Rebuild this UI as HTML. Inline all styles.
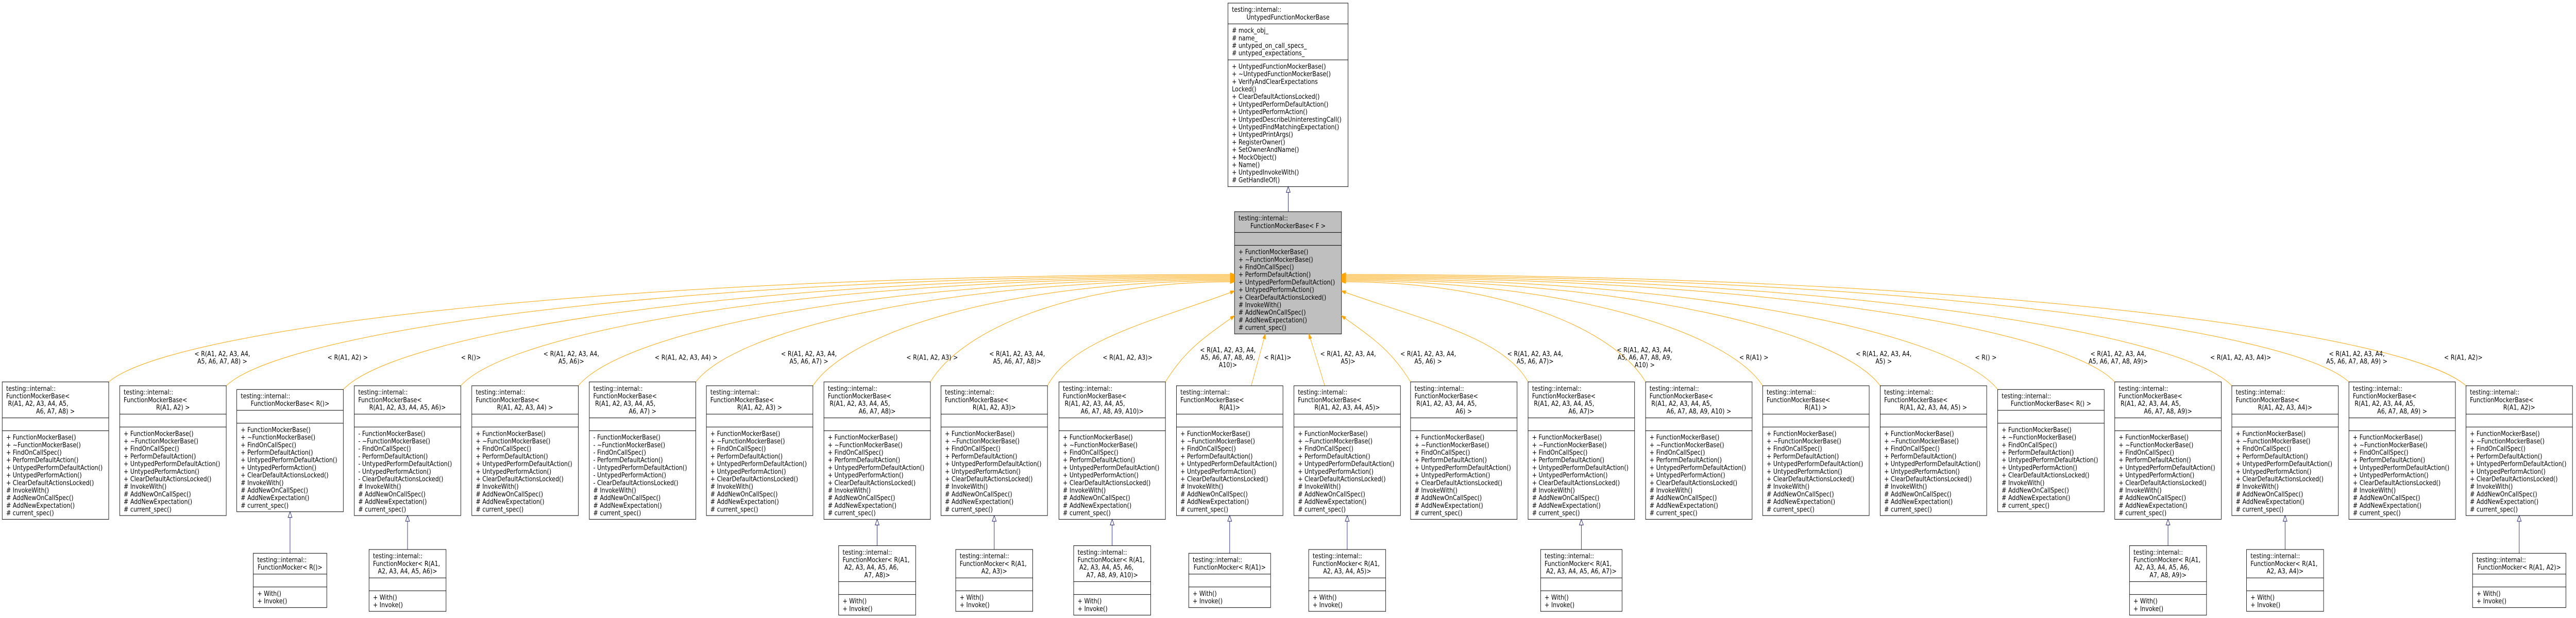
<!DOCTYPE html>
<html><head><meta charset="utf-8"><style>
html,body{margin:0;padding:0;background:#fff;overflow:hidden;width:100%;height:100%;}
svg{display:block;width:100vw;height:100vh;}
text{font-family:"DejaVu Sans","Liberation Sans",sans-serif;font-size:13px;fill:#000;white-space:pre;}
.m{text-anchor:middle;}
rect{stroke:#000;stroke-width:1;fill:#fff;}
rect.g{fill:#bfbfbf;}
line.s{stroke:#000;stroke-width:1;}
path.e{fill:none;stroke:#ffa500;stroke-width:1;marker-end:url(#oa);}
line.e{stroke:#ffa500;stroke-width:1;marker-end:url(#oa);}
line.i{stroke:#191970;stroke-width:1;}
polygon.i{fill:#fff;stroke:#191970;stroke-width:1;}
</style></head><body>
<svg viewBox="0 0 5853 1200" preserveAspectRatio="none" xmlns="http://www.w3.org/2000/svg">
<defs><marker id="oa" markerUnits="userSpaceOnUse" markerWidth="11" markerHeight="8" refX="10" refY="3.5" orient="auto"><path d="M0,0 L10,3.5 L0,7 z" fill="#ffa500" stroke="#ffa500"/></marker></defs>

<rect x="2790" y="6" width="273" height="356.4"/>
<line class="s" x1="2790" y1="46.4" x2="3063" y2="46.4"/>
<line class="s" x1="2790" y1="116.2" x2="3063" y2="116.2"/>
<text x="2799" y="23.2">testing::internal::</text>
<text class="m" x="2926.5" y="37.9">UntypedFunctionMockerBase</text>
<text x="2799" y="63.6"><tspan x="2799" dy="0"># mock_obj_</tspan><tspan x="2799" dy="14.7"># name_</tspan><tspan x="2799" dy="14.7"># untyped_on_call_specs_</tspan><tspan x="2799" dy="14.7"># untyped_expectations_</tspan></text>
<text x="2799" y="133.4"><tspan x="2799" dy="0">+ UntypedFunctionMockerBase()</tspan><tspan x="2799" dy="14.7">+ ~UntypedFunctionMockerBase()</tspan><tspan x="2799" dy="14.7">+ VerifyAndClearExpectations</tspan><tspan x="2799" dy="14.7">Locked()</tspan><tspan x="2799" dy="14.7">+ ClearDefaultActionsLocked()</tspan><tspan x="2799" dy="14.7">+ UntypedPerformDefaultAction()</tspan><tspan x="2799" dy="14.7">+ UntypedPerformAction()</tspan><tspan x="2799" dy="14.7">+ UntypedDescribeUninterestingCall()</tspan><tspan x="2799" dy="14.7">+ UntypedFindMatchingExpectation()</tspan><tspan x="2799" dy="14.7">+ UntypedPrintArgs()</tspan><tspan x="2799" dy="14.7">+ RegisterOwner()</tspan><tspan x="2799" dy="14.7">+ SetOwnerAndName()</tspan><tspan x="2799" dy="14.7">+ MockObject()</tspan><tspan x="2799" dy="14.7">+ Name()</tspan><tspan x="2799" dy="14.7">+ UntypedInvokeWith()</tspan><tspan x="2799" dy="14.7"># GetHandleOf()</tspan></text>
<line class="i" x1="2927" y1="411" x2="2927" y2="373"/>
<polygon class="i" points="2927,362.4 2922.5,373.4 2931.5,373.4"/>

<rect class="g" x="2805" y="411" width="243" height="237.4"/>
<line class="s" x1="2805" y1="451.4" x2="3048" y2="451.4"/>
<line class="s" x1="2805" y1="476.4" x2="3048" y2="476.4"/>
<text x="2814" y="428.2">testing::internal::</text>
<text class="m" x="2926.5" y="442.9">FunctionMockerBase&lt; F &gt;</text>
<text x="2814" y="493.6"><tspan x="2814" dy="0">+ FunctionMockerBase()</tspan><tspan x="2814" dy="14.7">+ ~FunctionMockerBase()</tspan><tspan x="2814" dy="14.7">+ FindOnCallSpec()</tspan><tspan x="2814" dy="14.7">+ PerformDefaultAction()</tspan><tspan x="2814" dy="14.7">+ UntypedPerformDefaultAction()</tspan><tspan x="2814" dy="14.7">+ UntypedPerformAction()</tspan><tspan x="2814" dy="14.7">+ ClearDefaultActionsLocked()</tspan><tspan x="2814" dy="14.7"># InvokeWith()</tspan><tspan x="2814" dy="14.7"># AddNewOnCallSpec()</tspan><tspan x="2814" dy="14.7"># AddNewExpectation()</tspan><tspan x="2814" dy="14.7"># current_spec()</tspan></text>

<path class="e" d="M247,741.6 C389,637.3 1398,533 2805,533"/>
<path class="e" d="M514,749 C646,642 1545,535 2805,535"/>
<path class="e" d="M780,756.3 C901,646.5 1691,537 2805,537"/>
<path class="e" d="M1047,749 C1157,644 1838,539 2805,539"/>
<path class="e" d="M1314,749 C1414,645 1985,541 2805,541"/>
<path class="e" d="M1581,741.6 C1670,642 2132,543 2805,543"/>
<path class="e" d="M1847,749 C1925,647 2278,545 2805,545"/>
<path class="e" d="M2114,741.6 C2182,644 2425,547 2805,547"/>
<path class="e" d="M2380,749 C2437,657 2635,620 2805,565"/>
<path class="e" d="M2648,741.6 C2694,677 2742,652 2805,613"/>
<line class="e" x1="2843" y1="749" x2="2875" y2="648.4"/>
<line class="e" x1="3010" y1="749" x2="2974" y2="648.4"/>
<path class="e" d="M3205,741.6 C3159,677 3111,652 3048,613"/>
<path class="e" d="M3472,741.6 C3415,653 3218,618 3048,565"/>
<path class="e" d="M3739,741.6 C3671,644 3428,547 3048,547"/>
<path class="e" d="M4005,749 C3927,647 3574,545 3048,545"/>
<path class="e" d="M4272,749 C4183,646 3721,543 3048,543"/>
<path class="e" d="M4539,756.3 C4439,648.5 3868,541 3048,541"/>
<path class="e" d="M4805,741.6 C4695,640 4014,539 3048,539"/>
<path class="e" d="M5071,749 C4950,643 4161,537 3048,537"/>
<path class="e" d="M5337,741.6 C5205,638 4307,535 3048,535"/>
<path class="e" d="M5603,749 C5461,641 4453,533 3048,533"/>

<text class="m" x="505" y="691.5">&lt; R(A1, A2, A3, A4,<tspan x="505" dy="14.7">A5, A6, A7, A8) &gt;</tspan></text>
<text class="m" x="790" y="698.5">&lt; R(A1, A2) &gt;</text>
<text class="m" x="1070" y="698.5">&lt; R()&gt;</text>
<text class="m" x="1298" y="691.5">&lt; R(A1, A2, A3, A4,<tspan x="1298" dy="14.7">A5, A6)&gt;</tspan></text>
<text class="m" x="1559" y="698.5">&lt; R(A1, A2, A3, A4) &gt;</text>
<text class="m" x="1838" y="691.5">&lt; R(A1, A2, A3, A4,<tspan x="1838" dy="14.7">A5, A6, A7) &gt;</tspan></text>
<text class="m" x="2118" y="698.5">&lt; R(A1, A2, A3) &gt;</text>
<text class="m" x="2311" y="691.5">&lt; R(A1, A2, A3, A4,<tspan x="2311" dy="14.7">A5, A6, A7, A8)&gt;</tspan></text>
<text class="m" x="2562" y="698.5">&lt; R(A1, A2, A3)&gt;</text>
<text class="m" x="2790" y="683.8">&lt; R(A1, A2, A3, A4,<tspan x="2790" dy="14.7">A5, A6, A7, A8, A9,</tspan><tspan x="2790" dy="14.7">A10)&gt;</tspan></text>
<text class="m" x="2903" y="698.5">&lt; R(A1)&gt;</text>
<text class="m" x="3063" y="691.5">&lt; R(A1, A2, A3, A4,<tspan x="3063" dy="14.7">A5)&gt;</tspan></text>
<text class="m" x="3245" y="691.5">&lt; R(A1, A2, A3, A4,<tspan x="3245" dy="14.7">A5, A6) &gt;</tspan></text>
<text class="m" x="3488" y="691.5">&lt; R(A1, A2, A3, A4,<tspan x="3488" dy="14.7">A5, A6, A7)&gt;</tspan></text>
<text class="m" x="3737" y="683.8">&lt; R(A1, A2, A3, A4,<tspan x="3737" dy="14.7">A5, A6, A7, A8, A9,</tspan><tspan x="3737" dy="14.7">A10) &gt;</tspan></text>
<text class="m" x="3985" y="698.5">&lt; R(A1) &gt;</text>
<text class="m" x="4280" y="691.5">&lt; R(A1, A2, A3, A4,<tspan x="4280" dy="14.7">A5) &gt;</tspan></text>
<text class="m" x="4512" y="698.5">&lt; R() &gt;</text>
<text class="m" x="4813" y="691.5">&lt; R(A1, A2, A3, A4,<tspan x="4813" dy="14.7">A5, A6, A7, A8, A9)&gt;</tspan></text>
<text class="m" x="5091" y="698.5">&lt; R(A1, A2, A3, A4)&gt;</text>
<text class="m" x="5355" y="691.5">&lt; R(A1, A2, A3, A4,<tspan x="5355" dy="14.7">A5, A6, A7, A8, A9) &gt;</tspan></text>
<text class="m" x="5597" y="698.5">&lt; R(A1, A2)&gt;</text>

<rect x="5" y="741.6" width="242" height="266.8"/><line class="s" x1="5" y1="811.4" x2="247" y2="811.4"/><line class="s" x1="5" y1="836.4" x2="247" y2="836.4"/>
<text x="14" y="758.8"><tspan x="14" dy="0">testing::internal::</tspan><tspan x="14" dy="14.7">FunctionMockerBase&lt;</tspan><tspan x="14" dy="14.7"> R(A1, A2, A3, A4, A5,</tspan></text><text class="m" x="126" y="802.9">A6, A7, A8) &gt;</text>
<text x="14" y="853.6"><tspan x="14" dy="0">+ FunctionMockerBase()</tspan><tspan x="14" dy="14.7">+ ~FunctionMockerBase()</tspan><tspan x="14" dy="14.7">+ FindOnCallSpec()</tspan><tspan x="14" dy="14.7">+ PerformDefaultAction()</tspan><tspan x="14" dy="14.7">+ UntypedPerformDefaultAction()</tspan><tspan x="14" dy="14.7">+ UntypedPerformAction()</tspan><tspan x="14" dy="14.7">+ ClearDefaultActionsLocked()</tspan><tspan x="14" dy="14.7"># InvokeWith()</tspan><tspan x="14" dy="14.7"># AddNewOnCallSpec()</tspan><tspan x="14" dy="14.7"># AddNewExpectation()</tspan><tspan x="14" dy="14.7"># current_spec()</tspan></text>

<rect x="272" y="749" width="242" height="252.1"/><line class="s" x1="272" y1="804.1" x2="514" y2="804.1"/><line class="s" x1="272" y1="829.1" x2="514" y2="829.1"/>
<text x="281" y="766.2"><tspan x="281" dy="0">testing::internal::</tspan><tspan x="281" dy="14.7">FunctionMockerBase&lt;</tspan></text><text class="m" x="393" y="795.6">R(A1, A2) &gt;</text>
<text x="281" y="846.3"><tspan x="281" dy="0">+ FunctionMockerBase()</tspan><tspan x="281" dy="14.7">+ ~FunctionMockerBase()</tspan><tspan x="281" dy="14.7">+ FindOnCallSpec()</tspan><tspan x="281" dy="14.7">+ PerformDefaultAction()</tspan><tspan x="281" dy="14.7">+ UntypedPerformDefaultAction()</tspan><tspan x="281" dy="14.7">+ UntypedPerformAction()</tspan><tspan x="281" dy="14.7">+ ClearDefaultActionsLocked()</tspan><tspan x="281" dy="14.7"># InvokeWith()</tspan><tspan x="281" dy="14.7"># AddNewOnCallSpec()</tspan><tspan x="281" dy="14.7"># AddNewExpectation()</tspan><tspan x="281" dy="14.7"># current_spec()</tspan></text>

<rect x="538" y="756.3" width="242" height="237.4"/><line class="s" x1="538" y1="796.7" x2="780" y2="796.7"/><line class="s" x1="538" y1="821.7" x2="780" y2="821.7"/>
<text x="547" y="773.5">testing::internal::</text><text class="m" x="659" y="788.2">FunctionMockerBase&lt; R()&gt;</text>
<text x="547" y="838.9"><tspan x="547" dy="0">+ FunctionMockerBase()</tspan><tspan x="547" dy="14.7">+ ~FunctionMockerBase()</tspan><tspan x="547" dy="14.7">+ FindOnCallSpec()</tspan><tspan x="547" dy="14.7">+ PerformDefaultAction()</tspan><tspan x="547" dy="14.7">+ UntypedPerformDefaultAction()</tspan><tspan x="547" dy="14.7">+ UntypedPerformAction()</tspan><tspan x="547" dy="14.7">+ ClearDefaultActionsLocked()</tspan><tspan x="547" dy="14.7"># InvokeWith()</tspan><tspan x="547" dy="14.7"># AddNewOnCallSpec()</tspan><tspan x="547" dy="14.7"># AddNewExpectation()</tspan><tspan x="547" dy="14.7"># current_spec()</tspan></text>

<rect x="805" y="749" width="242" height="252.1"/><line class="s" x1="805" y1="804.1" x2="1047" y2="804.1"/><line class="s" x1="805" y1="829.1" x2="1047" y2="829.1"/>
<text x="814" y="766.2"><tspan x="814" dy="0">testing::internal::</tspan><tspan x="814" dy="14.7">FunctionMockerBase&lt;</tspan></text><text class="m" x="926" y="795.6">R(A1, A2, A3, A4, A5, A6)&gt;</text>
<text x="814" y="846.3"><tspan x="814" dy="0">- FunctionMockerBase()</tspan><tspan x="814" dy="14.7">- ~FunctionMockerBase()</tspan><tspan x="814" dy="14.7">- FindOnCallSpec()</tspan><tspan x="814" dy="14.7">- PerformDefaultAction()</tspan><tspan x="814" dy="14.7">- UntypedPerformDefaultAction()</tspan><tspan x="814" dy="14.7">- UntypedPerformAction()</tspan><tspan x="814" dy="14.7">- ClearDefaultActionsLocked()</tspan><tspan x="814" dy="14.7"># InvokeWith()</tspan><tspan x="814" dy="14.7"># AddNewOnCallSpec()</tspan><tspan x="814" dy="14.7"># AddNewExpectation()</tspan><tspan x="814" dy="14.7"># current_spec()</tspan></text>

<rect x="1072" y="749" width="242" height="252.1"/><line class="s" x1="1072" y1="804.1" x2="1314" y2="804.1"/><line class="s" x1="1072" y1="829.1" x2="1314" y2="829.1"/>
<text x="1081" y="766.2"><tspan x="1081" dy="0">testing::internal::</tspan><tspan x="1081" dy="14.7">FunctionMockerBase&lt;</tspan></text><text class="m" x="1193" y="795.6">R(A1, A2, A3, A4) &gt;</text>
<text x="1081" y="846.3"><tspan x="1081" dy="0">+ FunctionMockerBase()</tspan><tspan x="1081" dy="14.7">+ ~FunctionMockerBase()</tspan><tspan x="1081" dy="14.7">+ FindOnCallSpec()</tspan><tspan x="1081" dy="14.7">+ PerformDefaultAction()</tspan><tspan x="1081" dy="14.7">+ UntypedPerformDefaultAction()</tspan><tspan x="1081" dy="14.7">+ UntypedPerformAction()</tspan><tspan x="1081" dy="14.7">+ ClearDefaultActionsLocked()</tspan><tspan x="1081" dy="14.7"># InvokeWith()</tspan><tspan x="1081" dy="14.7"># AddNewOnCallSpec()</tspan><tspan x="1081" dy="14.7"># AddNewExpectation()</tspan><tspan x="1081" dy="14.7"># current_spec()</tspan></text>

<rect x="1339" y="741.6" width="242" height="266.8"/><line class="s" x1="1339" y1="811.4" x2="1581" y2="811.4"/><line class="s" x1="1339" y1="836.4" x2="1581" y2="836.4"/>
<text x="1348" y="758.8"><tspan x="1348" dy="0">testing::internal::</tspan><tspan x="1348" dy="14.7">FunctionMockerBase&lt;</tspan><tspan x="1348" dy="14.7"> R(A1, A2, A3, A4, A5,</tspan></text><text class="m" x="1460" y="802.9">A6, A7) &gt;</text>
<text x="1348" y="853.6"><tspan x="1348" dy="0">- FunctionMockerBase()</tspan><tspan x="1348" dy="14.7">- ~FunctionMockerBase()</tspan><tspan x="1348" dy="14.7">- FindOnCallSpec()</tspan><tspan x="1348" dy="14.7">- PerformDefaultAction()</tspan><tspan x="1348" dy="14.7">- UntypedPerformDefaultAction()</tspan><tspan x="1348" dy="14.7">- UntypedPerformAction()</tspan><tspan x="1348" dy="14.7">- ClearDefaultActionsLocked()</tspan><tspan x="1348" dy="14.7"># InvokeWith()</tspan><tspan x="1348" dy="14.7"># AddNewOnCallSpec()</tspan><tspan x="1348" dy="14.7"># AddNewExpectation()</tspan><tspan x="1348" dy="14.7"># current_spec()</tspan></text>

<rect x="1605" y="749" width="242" height="252.1"/><line class="s" x1="1605" y1="804.1" x2="1847" y2="804.1"/><line class="s" x1="1605" y1="829.1" x2="1847" y2="829.1"/>
<text x="1614" y="766.2"><tspan x="1614" dy="0">testing::internal::</tspan><tspan x="1614" dy="14.7">FunctionMockerBase&lt;</tspan></text><text class="m" x="1726" y="795.6">R(A1, A2, A3) &gt;</text>
<text x="1614" y="846.3"><tspan x="1614" dy="0">+ FunctionMockerBase()</tspan><tspan x="1614" dy="14.7">+ ~FunctionMockerBase()</tspan><tspan x="1614" dy="14.7">+ FindOnCallSpec()</tspan><tspan x="1614" dy="14.7">+ PerformDefaultAction()</tspan><tspan x="1614" dy="14.7">+ UntypedPerformDefaultAction()</tspan><tspan x="1614" dy="14.7">+ UntypedPerformAction()</tspan><tspan x="1614" dy="14.7">+ ClearDefaultActionsLocked()</tspan><tspan x="1614" dy="14.7"># InvokeWith()</tspan><tspan x="1614" dy="14.7"># AddNewOnCallSpec()</tspan><tspan x="1614" dy="14.7"># AddNewExpectation()</tspan><tspan x="1614" dy="14.7"># current_spec()</tspan></text>

<rect x="1872" y="741.6" width="242" height="266.8"/><line class="s" x1="1872" y1="811.4" x2="2114" y2="811.4"/><line class="s" x1="1872" y1="836.4" x2="2114" y2="836.4"/>
<text x="1881" y="758.8"><tspan x="1881" dy="0">testing::internal::</tspan><tspan x="1881" dy="14.7">FunctionMockerBase&lt;</tspan><tspan x="1881" dy="14.7"> R(A1, A2, A3, A4, A5,</tspan></text><text class="m" x="1993" y="802.9">A6, A7, A8)&gt;</text>
<text x="1881" y="853.6"><tspan x="1881" dy="0">+ FunctionMockerBase()</tspan><tspan x="1881" dy="14.7">+ ~FunctionMockerBase()</tspan><tspan x="1881" dy="14.7">+ FindOnCallSpec()</tspan><tspan x="1881" dy="14.7">+ PerformDefaultAction()</tspan><tspan x="1881" dy="14.7">+ UntypedPerformDefaultAction()</tspan><tspan x="1881" dy="14.7">+ UntypedPerformAction()</tspan><tspan x="1881" dy="14.7">+ ClearDefaultActionsLocked()</tspan><tspan x="1881" dy="14.7"># InvokeWith()</tspan><tspan x="1881" dy="14.7"># AddNewOnCallSpec()</tspan><tspan x="1881" dy="14.7"># AddNewExpectation()</tspan><tspan x="1881" dy="14.7"># current_spec()</tspan></text>

<rect x="2138" y="749" width="242" height="252.1"/><line class="s" x1="2138" y1="804.1" x2="2380" y2="804.1"/><line class="s" x1="2138" y1="829.1" x2="2380" y2="829.1"/>
<text x="2147" y="766.2"><tspan x="2147" dy="0">testing::internal::</tspan><tspan x="2147" dy="14.7">FunctionMockerBase&lt;</tspan></text><text class="m" x="2259" y="795.6">R(A1, A2, A3)&gt;</text>
<text x="2147" y="846.3"><tspan x="2147" dy="0">+ FunctionMockerBase()</tspan><tspan x="2147" dy="14.7">+ ~FunctionMockerBase()</tspan><tspan x="2147" dy="14.7">+ FindOnCallSpec()</tspan><tspan x="2147" dy="14.7">+ PerformDefaultAction()</tspan><tspan x="2147" dy="14.7">+ UntypedPerformDefaultAction()</tspan><tspan x="2147" dy="14.7">+ UntypedPerformAction()</tspan><tspan x="2147" dy="14.7">+ ClearDefaultActionsLocked()</tspan><tspan x="2147" dy="14.7"># InvokeWith()</tspan><tspan x="2147" dy="14.7"># AddNewOnCallSpec()</tspan><tspan x="2147" dy="14.7"># AddNewExpectation()</tspan><tspan x="2147" dy="14.7"># current_spec()</tspan></text>

<rect x="2406" y="741.6" width="242" height="266.8"/><line class="s" x1="2406" y1="811.4" x2="2648" y2="811.4"/><line class="s" x1="2406" y1="836.4" x2="2648" y2="836.4"/>
<text x="2415" y="758.8"><tspan x="2415" dy="0">testing::internal::</tspan><tspan x="2415" dy="14.7">FunctionMockerBase&lt;</tspan><tspan x="2415" dy="14.7"> R(A1, A2, A3, A4, A5,</tspan></text><text class="m" x="2527" y="802.9">A6, A7, A8, A9, A10)&gt;</text>
<text x="2415" y="853.6"><tspan x="2415" dy="0">+ FunctionMockerBase()</tspan><tspan x="2415" dy="14.7">+ ~FunctionMockerBase()</tspan><tspan x="2415" dy="14.7">+ FindOnCallSpec()</tspan><tspan x="2415" dy="14.7">+ PerformDefaultAction()</tspan><tspan x="2415" dy="14.7">+ UntypedPerformDefaultAction()</tspan><tspan x="2415" dy="14.7">+ UntypedPerformAction()</tspan><tspan x="2415" dy="14.7">+ ClearDefaultActionsLocked()</tspan><tspan x="2415" dy="14.7"># InvokeWith()</tspan><tspan x="2415" dy="14.7"># AddNewOnCallSpec()</tspan><tspan x="2415" dy="14.7"># AddNewExpectation()</tspan><tspan x="2415" dy="14.7"># current_spec()</tspan></text>

<rect x="2673" y="749" width="242" height="252.1"/><line class="s" x1="2673" y1="804.1" x2="2915" y2="804.1"/><line class="s" x1="2673" y1="829.1" x2="2915" y2="829.1"/>
<text x="2682" y="766.2"><tspan x="2682" dy="0">testing::internal::</tspan><tspan x="2682" dy="14.7">FunctionMockerBase&lt;</tspan></text><text class="m" x="2794" y="795.6">R(A1)&gt;</text>
<text x="2682" y="846.3"><tspan x="2682" dy="0">+ FunctionMockerBase()</tspan><tspan x="2682" dy="14.7">+ ~FunctionMockerBase()</tspan><tspan x="2682" dy="14.7">+ FindOnCallSpec()</tspan><tspan x="2682" dy="14.7">+ PerformDefaultAction()</tspan><tspan x="2682" dy="14.7">+ UntypedPerformDefaultAction()</tspan><tspan x="2682" dy="14.7">+ UntypedPerformAction()</tspan><tspan x="2682" dy="14.7">+ ClearDefaultActionsLocked()</tspan><tspan x="2682" dy="14.7"># InvokeWith()</tspan><tspan x="2682" dy="14.7"># AddNewOnCallSpec()</tspan><tspan x="2682" dy="14.7"># AddNewExpectation()</tspan><tspan x="2682" dy="14.7"># current_spec()</tspan></text>

<rect x="2940" y="749" width="242" height="252.1"/><line class="s" x1="2940" y1="804.1" x2="3182" y2="804.1"/><line class="s" x1="2940" y1="829.1" x2="3182" y2="829.1"/>
<text x="2949" y="766.2"><tspan x="2949" dy="0">testing::internal::</tspan><tspan x="2949" dy="14.7">FunctionMockerBase&lt;</tspan></text><text class="m" x="3061" y="795.6">R(A1, A2, A3, A4, A5)&gt;</text>
<text x="2949" y="846.3"><tspan x="2949" dy="0">+ FunctionMockerBase()</tspan><tspan x="2949" dy="14.7">+ ~FunctionMockerBase()</tspan><tspan x="2949" dy="14.7">+ FindOnCallSpec()</tspan><tspan x="2949" dy="14.7">+ PerformDefaultAction()</tspan><tspan x="2949" dy="14.7">+ UntypedPerformDefaultAction()</tspan><tspan x="2949" dy="14.7">+ UntypedPerformAction()</tspan><tspan x="2949" dy="14.7">+ ClearDefaultActionsLocked()</tspan><tspan x="2949" dy="14.7"># InvokeWith()</tspan><tspan x="2949" dy="14.7"># AddNewOnCallSpec()</tspan><tspan x="2949" dy="14.7"># AddNewExpectation()</tspan><tspan x="2949" dy="14.7"># current_spec()</tspan></text>

<rect x="3205" y="741.6" width="242" height="266.8"/><line class="s" x1="3205" y1="811.4" x2="3447" y2="811.4"/><line class="s" x1="3205" y1="836.4" x2="3447" y2="836.4"/>
<text x="3214" y="758.8"><tspan x="3214" dy="0">testing::internal::</tspan><tspan x="3214" dy="14.7">FunctionMockerBase&lt;</tspan><tspan x="3214" dy="14.7"> R(A1, A2, A3, A4, A5,</tspan></text><text class="m" x="3326" y="802.9">A6) &gt;</text>
<text x="3214" y="853.6"><tspan x="3214" dy="0">+ FunctionMockerBase()</tspan><tspan x="3214" dy="14.7">+ ~FunctionMockerBase()</tspan><tspan x="3214" dy="14.7">+ FindOnCallSpec()</tspan><tspan x="3214" dy="14.7">+ PerformDefaultAction()</tspan><tspan x="3214" dy="14.7">+ UntypedPerformDefaultAction()</tspan><tspan x="3214" dy="14.7">+ UntypedPerformAction()</tspan><tspan x="3214" dy="14.7">+ ClearDefaultActionsLocked()</tspan><tspan x="3214" dy="14.7"># InvokeWith()</tspan><tspan x="3214" dy="14.7"># AddNewOnCallSpec()</tspan><tspan x="3214" dy="14.7"># AddNewExpectation()</tspan><tspan x="3214" dy="14.7"># current_spec()</tspan></text>

<rect x="3472" y="741.6" width="242" height="266.8"/><line class="s" x1="3472" y1="811.4" x2="3714" y2="811.4"/><line class="s" x1="3472" y1="836.4" x2="3714" y2="836.4"/>
<text x="3481" y="758.8"><tspan x="3481" dy="0">testing::internal::</tspan><tspan x="3481" dy="14.7">FunctionMockerBase&lt;</tspan><tspan x="3481" dy="14.7"> R(A1, A2, A3, A4, A5,</tspan></text><text class="m" x="3593" y="802.9">A6, A7)&gt;</text>
<text x="3481" y="853.6"><tspan x="3481" dy="0">+ FunctionMockerBase()</tspan><tspan x="3481" dy="14.7">+ ~FunctionMockerBase()</tspan><tspan x="3481" dy="14.7">+ FindOnCallSpec()</tspan><tspan x="3481" dy="14.7">+ PerformDefaultAction()</tspan><tspan x="3481" dy="14.7">+ UntypedPerformDefaultAction()</tspan><tspan x="3481" dy="14.7">+ UntypedPerformAction()</tspan><tspan x="3481" dy="14.7">+ ClearDefaultActionsLocked()</tspan><tspan x="3481" dy="14.7"># InvokeWith()</tspan><tspan x="3481" dy="14.7"># AddNewOnCallSpec()</tspan><tspan x="3481" dy="14.7"># AddNewExpectation()</tspan><tspan x="3481" dy="14.7"># current_spec()</tspan></text>

<rect x="3739" y="741.6" width="242" height="266.8"/><line class="s" x1="3739" y1="811.4" x2="3981" y2="811.4"/><line class="s" x1="3739" y1="836.4" x2="3981" y2="836.4"/>
<text x="3748" y="758.8"><tspan x="3748" dy="0">testing::internal::</tspan><tspan x="3748" dy="14.7">FunctionMockerBase&lt;</tspan><tspan x="3748" dy="14.7"> R(A1, A2, A3, A4, A5,</tspan></text><text class="m" x="3860" y="802.9">A6, A7, A8, A9, A10) &gt;</text>
<text x="3748" y="853.6"><tspan x="3748" dy="0">+ FunctionMockerBase()</tspan><tspan x="3748" dy="14.7">+ ~FunctionMockerBase()</tspan><tspan x="3748" dy="14.7">+ FindOnCallSpec()</tspan><tspan x="3748" dy="14.7">+ PerformDefaultAction()</tspan><tspan x="3748" dy="14.7">+ UntypedPerformDefaultAction()</tspan><tspan x="3748" dy="14.7">+ UntypedPerformAction()</tspan><tspan x="3748" dy="14.7">+ ClearDefaultActionsLocked()</tspan><tspan x="3748" dy="14.7"># InvokeWith()</tspan><tspan x="3748" dy="14.7"># AddNewOnCallSpec()</tspan><tspan x="3748" dy="14.7"># AddNewExpectation()</tspan><tspan x="3748" dy="14.7"># current_spec()</tspan></text>

<rect x="4005" y="749" width="242" height="252.1"/><line class="s" x1="4005" y1="804.1" x2="4247" y2="804.1"/><line class="s" x1="4005" y1="829.1" x2="4247" y2="829.1"/>
<text x="4014" y="766.2"><tspan x="4014" dy="0">testing::internal::</tspan><tspan x="4014" dy="14.7">FunctionMockerBase&lt;</tspan></text><text class="m" x="4126" y="795.6">R(A1) &gt;</text>
<text x="4014" y="846.3"><tspan x="4014" dy="0">+ FunctionMockerBase()</tspan><tspan x="4014" dy="14.7">+ ~FunctionMockerBase()</tspan><tspan x="4014" dy="14.7">+ FindOnCallSpec()</tspan><tspan x="4014" dy="14.7">+ PerformDefaultAction()</tspan><tspan x="4014" dy="14.7">+ UntypedPerformDefaultAction()</tspan><tspan x="4014" dy="14.7">+ UntypedPerformAction()</tspan><tspan x="4014" dy="14.7">+ ClearDefaultActionsLocked()</tspan><tspan x="4014" dy="14.7"># InvokeWith()</tspan><tspan x="4014" dy="14.7"># AddNewOnCallSpec()</tspan><tspan x="4014" dy="14.7"># AddNewExpectation()</tspan><tspan x="4014" dy="14.7"># current_spec()</tspan></text>

<rect x="4272" y="749" width="242" height="252.1"/><line class="s" x1="4272" y1="804.1" x2="4514" y2="804.1"/><line class="s" x1="4272" y1="829.1" x2="4514" y2="829.1"/>
<text x="4281" y="766.2"><tspan x="4281" dy="0">testing::internal::</tspan><tspan x="4281" dy="14.7">FunctionMockerBase&lt;</tspan></text><text class="m" x="4393" y="795.6">R(A1, A2, A3, A4, A5) &gt;</text>
<text x="4281" y="846.3"><tspan x="4281" dy="0">+ FunctionMockerBase()</tspan><tspan x="4281" dy="14.7">+ ~FunctionMockerBase()</tspan><tspan x="4281" dy="14.7">+ FindOnCallSpec()</tspan><tspan x="4281" dy="14.7">+ PerformDefaultAction()</tspan><tspan x="4281" dy="14.7">+ UntypedPerformDefaultAction()</tspan><tspan x="4281" dy="14.7">+ UntypedPerformAction()</tspan><tspan x="4281" dy="14.7">+ ClearDefaultActionsLocked()</tspan><tspan x="4281" dy="14.7"># InvokeWith()</tspan><tspan x="4281" dy="14.7"># AddNewOnCallSpec()</tspan><tspan x="4281" dy="14.7"># AddNewExpectation()</tspan><tspan x="4281" dy="14.7"># current_spec()</tspan></text>

<rect x="4539" y="756.3" width="242" height="237.4"/><line class="s" x1="4539" y1="796.7" x2="4781" y2="796.7"/><line class="s" x1="4539" y1="821.7" x2="4781" y2="821.7"/>
<text x="4548" y="773.5">testing::internal::</text><text class="m" x="4660" y="788.2">FunctionMockerBase&lt; R() &gt;</text>
<text x="4548" y="838.9"><tspan x="4548" dy="0">+ FunctionMockerBase()</tspan><tspan x="4548" dy="14.7">+ ~FunctionMockerBase()</tspan><tspan x="4548" dy="14.7">+ FindOnCallSpec()</tspan><tspan x="4548" dy="14.7">+ PerformDefaultAction()</tspan><tspan x="4548" dy="14.7">+ UntypedPerformDefaultAction()</tspan><tspan x="4548" dy="14.7">+ UntypedPerformAction()</tspan><tspan x="4548" dy="14.7">+ ClearDefaultActionsLocked()</tspan><tspan x="4548" dy="14.7"># InvokeWith()</tspan><tspan x="4548" dy="14.7"># AddNewOnCallSpec()</tspan><tspan x="4548" dy="14.7"># AddNewExpectation()</tspan><tspan x="4548" dy="14.7"># current_spec()</tspan></text>

<rect x="4805" y="741.6" width="242" height="266.8"/><line class="s" x1="4805" y1="811.4" x2="5047" y2="811.4"/><line class="s" x1="4805" y1="836.4" x2="5047" y2="836.4"/>
<text x="4814" y="758.8"><tspan x="4814" dy="0">testing::internal::</tspan><tspan x="4814" dy="14.7">FunctionMockerBase&lt;</tspan><tspan x="4814" dy="14.7"> R(A1, A2, A3, A4, A5,</tspan></text><text class="m" x="4926" y="802.9">A6, A7, A8, A9)&gt;</text>
<text x="4814" y="853.6"><tspan x="4814" dy="0">+ FunctionMockerBase()</tspan><tspan x="4814" dy="14.7">+ ~FunctionMockerBase()</tspan><tspan x="4814" dy="14.7">+ FindOnCallSpec()</tspan><tspan x="4814" dy="14.7">+ PerformDefaultAction()</tspan><tspan x="4814" dy="14.7">+ UntypedPerformDefaultAction()</tspan><tspan x="4814" dy="14.7">+ UntypedPerformAction()</tspan><tspan x="4814" dy="14.7">+ ClearDefaultActionsLocked()</tspan><tspan x="4814" dy="14.7"># InvokeWith()</tspan><tspan x="4814" dy="14.7"># AddNewOnCallSpec()</tspan><tspan x="4814" dy="14.7"># AddNewExpectation()</tspan><tspan x="4814" dy="14.7"># current_spec()</tspan></text>

<rect x="5071" y="749" width="242" height="252.1"/><line class="s" x1="5071" y1="804.1" x2="5313" y2="804.1"/><line class="s" x1="5071" y1="829.1" x2="5313" y2="829.1"/>
<text x="5080" y="766.2"><tspan x="5080" dy="0">testing::internal::</tspan><tspan x="5080" dy="14.7">FunctionMockerBase&lt;</tspan></text><text class="m" x="5192" y="795.6">R(A1, A2, A3, A4)&gt;</text>
<text x="5080" y="846.3"><tspan x="5080" dy="0">+ FunctionMockerBase()</tspan><tspan x="5080" dy="14.7">+ ~FunctionMockerBase()</tspan><tspan x="5080" dy="14.7">+ FindOnCallSpec()</tspan><tspan x="5080" dy="14.7">+ PerformDefaultAction()</tspan><tspan x="5080" dy="14.7">+ UntypedPerformDefaultAction()</tspan><tspan x="5080" dy="14.7">+ UntypedPerformAction()</tspan><tspan x="5080" dy="14.7">+ ClearDefaultActionsLocked()</tspan><tspan x="5080" dy="14.7"># InvokeWith()</tspan><tspan x="5080" dy="14.7"># AddNewOnCallSpec()</tspan><tspan x="5080" dy="14.7"># AddNewExpectation()</tspan><tspan x="5080" dy="14.7"># current_spec()</tspan></text>

<rect x="5337" y="741.6" width="242" height="266.8"/><line class="s" x1="5337" y1="811.4" x2="5579" y2="811.4"/><line class="s" x1="5337" y1="836.4" x2="5579" y2="836.4"/>
<text x="5346" y="758.8"><tspan x="5346" dy="0">testing::internal::</tspan><tspan x="5346" dy="14.7">FunctionMockerBase&lt;</tspan><tspan x="5346" dy="14.7"> R(A1, A2, A3, A4, A5,</tspan></text><text class="m" x="5458" y="802.9">A6, A7, A8, A9) &gt;</text>
<text x="5346" y="853.6"><tspan x="5346" dy="0">+ FunctionMockerBase()</tspan><tspan x="5346" dy="14.7">+ ~FunctionMockerBase()</tspan><tspan x="5346" dy="14.7">+ FindOnCallSpec()</tspan><tspan x="5346" dy="14.7">+ PerformDefaultAction()</tspan><tspan x="5346" dy="14.7">+ UntypedPerformDefaultAction()</tspan><tspan x="5346" dy="14.7">+ UntypedPerformAction()</tspan><tspan x="5346" dy="14.7">+ ClearDefaultActionsLocked()</tspan><tspan x="5346" dy="14.7"># InvokeWith()</tspan><tspan x="5346" dy="14.7"># AddNewOnCallSpec()</tspan><tspan x="5346" dy="14.7"># AddNewExpectation()</tspan><tspan x="5346" dy="14.7"># current_spec()</tspan></text>

<rect x="5603" y="749" width="242" height="252.1"/><line class="s" x1="5603" y1="804.1" x2="5845" y2="804.1"/><line class="s" x1="5603" y1="829.1" x2="5845" y2="829.1"/>
<text x="5612" y="766.2"><tspan x="5612" dy="0">testing::internal::</tspan><tspan x="5612" dy="14.7">FunctionMockerBase&lt;</tspan></text><text class="m" x="5724" y="795.6">R(A1, A2)&gt;</text>
<text x="5612" y="846.3"><tspan x="5612" dy="0">+ FunctionMockerBase()</tspan><tspan x="5612" dy="14.7">+ ~FunctionMockerBase()</tspan><tspan x="5612" dy="14.7">+ FindOnCallSpec()</tspan><tspan x="5612" dy="14.7">+ PerformDefaultAction()</tspan><tspan x="5612" dy="14.7">+ UntypedPerformDefaultAction()</tspan><tspan x="5612" dy="14.7">+ UntypedPerformAction()</tspan><tspan x="5612" dy="14.7">+ ClearDefaultActionsLocked()</tspan><tspan x="5612" dy="14.7"># InvokeWith()</tspan><tspan x="5612" dy="14.7"># AddNewOnCallSpec()</tspan><tspan x="5612" dy="14.7"># AddNewExpectation()</tspan><tspan x="5612" dy="14.7"># current_spec()</tspan></text>

<line class="i" x1="659" y1="1074.3" x2="659" y2="1004.7"/><polygon class="i" points="659,993.7 654.5,1004.7 663.5,1004.7"/>
<rect x="575.5" y="1074.3" width="167" height="105.4"/><line class="s" x1="575.5" y1="1114.7" x2="742.5" y2="1114.7"/><line class="s" x1="575.5" y1="1139.7" x2="742.5" y2="1139.7"/>
<text x="584.5" y="1091.5">testing::internal::</text><text class="m" x="659" y="1106.2">FunctionMocker&lt; R()&gt;</text>
<text x="584.5" y="1156.9"><tspan x="584.5" dy="0">+ With()</tspan><tspan x="584.5" dy="14.7">+ Invoke()</tspan></text>

<line class="i" x1="926" y1="1067" x2="926" y2="1012.1"/><polygon class="i" points="926,1001.1 921.5,1012.1 930.5,1012.1"/>
<rect x="838.5" y="1067" width="175" height="120.1"/><line class="s" x1="838.5" y1="1122.1" x2="1013.5" y2="1122.1"/><line class="s" x1="838.5" y1="1147.1" x2="1013.5" y2="1147.1"/>
<text x="847.5" y="1084.2"><tspan x="847.5" dy="0">testing::internal::</tspan><tspan x="847.5" dy="14.7">FunctionMocker&lt; R(A1,</tspan></text><text class="m" x="926" y="1113.6">A2, A3, A4, A5, A6)&gt;</text>
<text x="847.5" y="1164.3"><tspan x="847.5" dy="0">+ With()</tspan><tspan x="847.5" dy="14.7">+ Invoke()</tspan></text>

<line class="i" x1="1993" y1="1059.6" x2="1993" y2="1019.4"/><polygon class="i" points="1993,1008.4 1988.5,1019.4 1997.5,1019.4"/>
<rect x="1905.5" y="1059.6" width="175" height="134.8"/><line class="s" x1="1905.5" y1="1129.4" x2="2080.5" y2="1129.4"/><line class="s" x1="1905.5" y1="1154.4" x2="2080.5" y2="1154.4"/>
<text x="1914.5" y="1076.8"><tspan x="1914.5" dy="0">testing::internal::</tspan><tspan x="1914.5" dy="14.7">FunctionMocker&lt; R(A1,</tspan><tspan x="1914.5" dy="14.7"> A2, A3, A4, A5, A6,</tspan></text><text class="m" x="1993" y="1120.9">A7, A8)&gt;</text>
<text x="1914.5" y="1171.6"><tspan x="1914.5" dy="0">+ With()</tspan><tspan x="1914.5" dy="14.7">+ Invoke()</tspan></text>

<line class="i" x1="2259" y1="1067" x2="2259" y2="1012.1"/><polygon class="i" points="2259,1001.1 2254.5,1012.1 2263.5,1012.1"/>
<rect x="2171.5" y="1067" width="175" height="120.1"/><line class="s" x1="2171.5" y1="1122.1" x2="2346.5" y2="1122.1"/><line class="s" x1="2171.5" y1="1147.1" x2="2346.5" y2="1147.1"/>
<text x="2180.5" y="1084.2"><tspan x="2180.5" dy="0">testing::internal::</tspan><tspan x="2180.5" dy="14.7">FunctionMocker&lt; R(A1,</tspan></text><text class="m" x="2259" y="1113.6">A2, A3)&gt;</text>
<text x="2180.5" y="1164.3"><tspan x="2180.5" dy="0">+ With()</tspan><tspan x="2180.5" dy="14.7">+ Invoke()</tspan></text>

<line class="i" x1="2527" y1="1059.6" x2="2527" y2="1019.4"/><polygon class="i" points="2527,1008.4 2522.5,1019.4 2531.5,1019.4"/>
<rect x="2439.5" y="1059.6" width="175" height="134.8"/><line class="s" x1="2439.5" y1="1129.4" x2="2614.5" y2="1129.4"/><line class="s" x1="2439.5" y1="1154.4" x2="2614.5" y2="1154.4"/>
<text x="2448.5" y="1076.8"><tspan x="2448.5" dy="0">testing::internal::</tspan><tspan x="2448.5" dy="14.7">FunctionMocker&lt; R(A1,</tspan><tspan x="2448.5" dy="14.7"> A2, A3, A4, A5, A6,</tspan></text><text class="m" x="2527" y="1120.9">A7, A8, A9, A10)&gt;</text>
<text x="2448.5" y="1171.6"><tspan x="2448.5" dy="0">+ With()</tspan><tspan x="2448.5" dy="14.7">+ Invoke()</tspan></text>

<line class="i" x1="2794" y1="1074.3" x2="2794" y2="1012.1"/><polygon class="i" points="2794,1001.1 2789.5,1012.1 2798.5,1012.1"/>
<rect x="2701" y="1074.3" width="186" height="105.4"/><line class="s" x1="2701" y1="1114.7" x2="2887" y2="1114.7"/><line class="s" x1="2701" y1="1139.7" x2="2887" y2="1139.7"/>
<text x="2710" y="1091.5">testing::internal::</text><text class="m" x="2794" y="1106.2">FunctionMocker&lt; R(A1)&gt;</text>
<text x="2710" y="1156.9"><tspan x="2710" dy="0">+ With()</tspan><tspan x="2710" dy="14.7">+ Invoke()</tspan></text>

<line class="i" x1="3061" y1="1067" x2="3061" y2="1012.1"/><polygon class="i" points="3061,1001.1 3056.5,1012.1 3065.5,1012.1"/>
<rect x="2973.5" y="1067" width="175" height="120.1"/><line class="s" x1="2973.5" y1="1122.1" x2="3148.5" y2="1122.1"/><line class="s" x1="2973.5" y1="1147.1" x2="3148.5" y2="1147.1"/>
<text x="2982.5" y="1084.2"><tspan x="2982.5" dy="0">testing::internal::</tspan><tspan x="2982.5" dy="14.7">FunctionMocker&lt; R(A1,</tspan></text><text class="m" x="3061" y="1113.6">A2, A3, A4, A5)&gt;</text>
<text x="2982.5" y="1164.3"><tspan x="2982.5" dy="0">+ With()</tspan><tspan x="2982.5" dy="14.7">+ Invoke()</tspan></text>

<line class="i" x1="3593" y1="1067" x2="3593" y2="1019.4"/><polygon class="i" points="3593,1008.4 3588.5,1019.4 3597.5,1019.4"/>
<rect x="3500.5" y="1067" width="185" height="120.1"/><line class="s" x1="3500.5" y1="1122.1" x2="3685.5" y2="1122.1"/><line class="s" x1="3500.5" y1="1147.1" x2="3685.5" y2="1147.1"/>
<text x="3509.5" y="1084.2"><tspan x="3509.5" dy="0">testing::internal::</tspan><tspan x="3509.5" dy="14.7">FunctionMocker&lt; R(A1,</tspan></text><text class="m" x="3593" y="1113.6">A2, A3, A4, A5, A6, A7)&gt;</text>
<text x="3509.5" y="1164.3"><tspan x="3509.5" dy="0">+ With()</tspan><tspan x="3509.5" dy="14.7">+ Invoke()</tspan></text>

<line class="i" x1="4926" y1="1059.6" x2="4926" y2="1019.4"/><polygon class="i" points="4926,1008.4 4921.5,1019.4 4930.5,1019.4"/>
<rect x="4838.5" y="1059.6" width="175" height="134.8"/><line class="s" x1="4838.5" y1="1129.4" x2="5013.5" y2="1129.4"/><line class="s" x1="4838.5" y1="1154.4" x2="5013.5" y2="1154.4"/>
<text x="4847.5" y="1076.8"><tspan x="4847.5" dy="0">testing::internal::</tspan><tspan x="4847.5" dy="14.7">FunctionMocker&lt; R(A1,</tspan><tspan x="4847.5" dy="14.7"> A2, A3, A4, A5, A6,</tspan></text><text class="m" x="4926" y="1120.9">A7, A8, A9)&gt;</text>
<text x="4847.5" y="1171.6"><tspan x="4847.5" dy="0">+ With()</tspan><tspan x="4847.5" dy="14.7">+ Invoke()</tspan></text>

<line class="i" x1="5192" y1="1067" x2="5192" y2="1012.1"/><polygon class="i" points="5192,1001.1 5187.5,1012.1 5196.5,1012.1"/>
<rect x="5104.5" y="1067" width="175" height="120.1"/><line class="s" x1="5104.5" y1="1122.1" x2="5279.5" y2="1122.1"/><line class="s" x1="5104.5" y1="1147.1" x2="5279.5" y2="1147.1"/>
<text x="5113.5" y="1084.2"><tspan x="5113.5" dy="0">testing::internal::</tspan><tspan x="5113.5" dy="14.7">FunctionMocker&lt; R(A1,</tspan></text><text class="m" x="5192" y="1113.6">A2, A3, A4)&gt;</text>
<text x="5113.5" y="1164.3"><tspan x="5113.5" dy="0">+ With()</tspan><tspan x="5113.5" dy="14.7">+ Invoke()</tspan></text>

<line class="i" x1="5724" y1="1074.3" x2="5724" y2="1012.1"/><polygon class="i" points="5724,1001.1 5719.5,1012.1 5728.5,1012.1"/>
<rect x="5618" y="1074.3" width="212" height="105.4"/><line class="s" x1="5618" y1="1114.7" x2="5830" y2="1114.7"/><line class="s" x1="5618" y1="1139.7" x2="5830" y2="1139.7"/>
<text x="5627" y="1091.5">testing::internal::</text><text class="m" x="5724" y="1106.2">FunctionMocker&lt; R(A1, A2)&gt;</text>
<text x="5627" y="1156.9"><tspan x="5627" dy="0">+ With()</tspan><tspan x="5627" dy="14.7">+ Invoke()</tspan></text>
</svg>
</body></html>
